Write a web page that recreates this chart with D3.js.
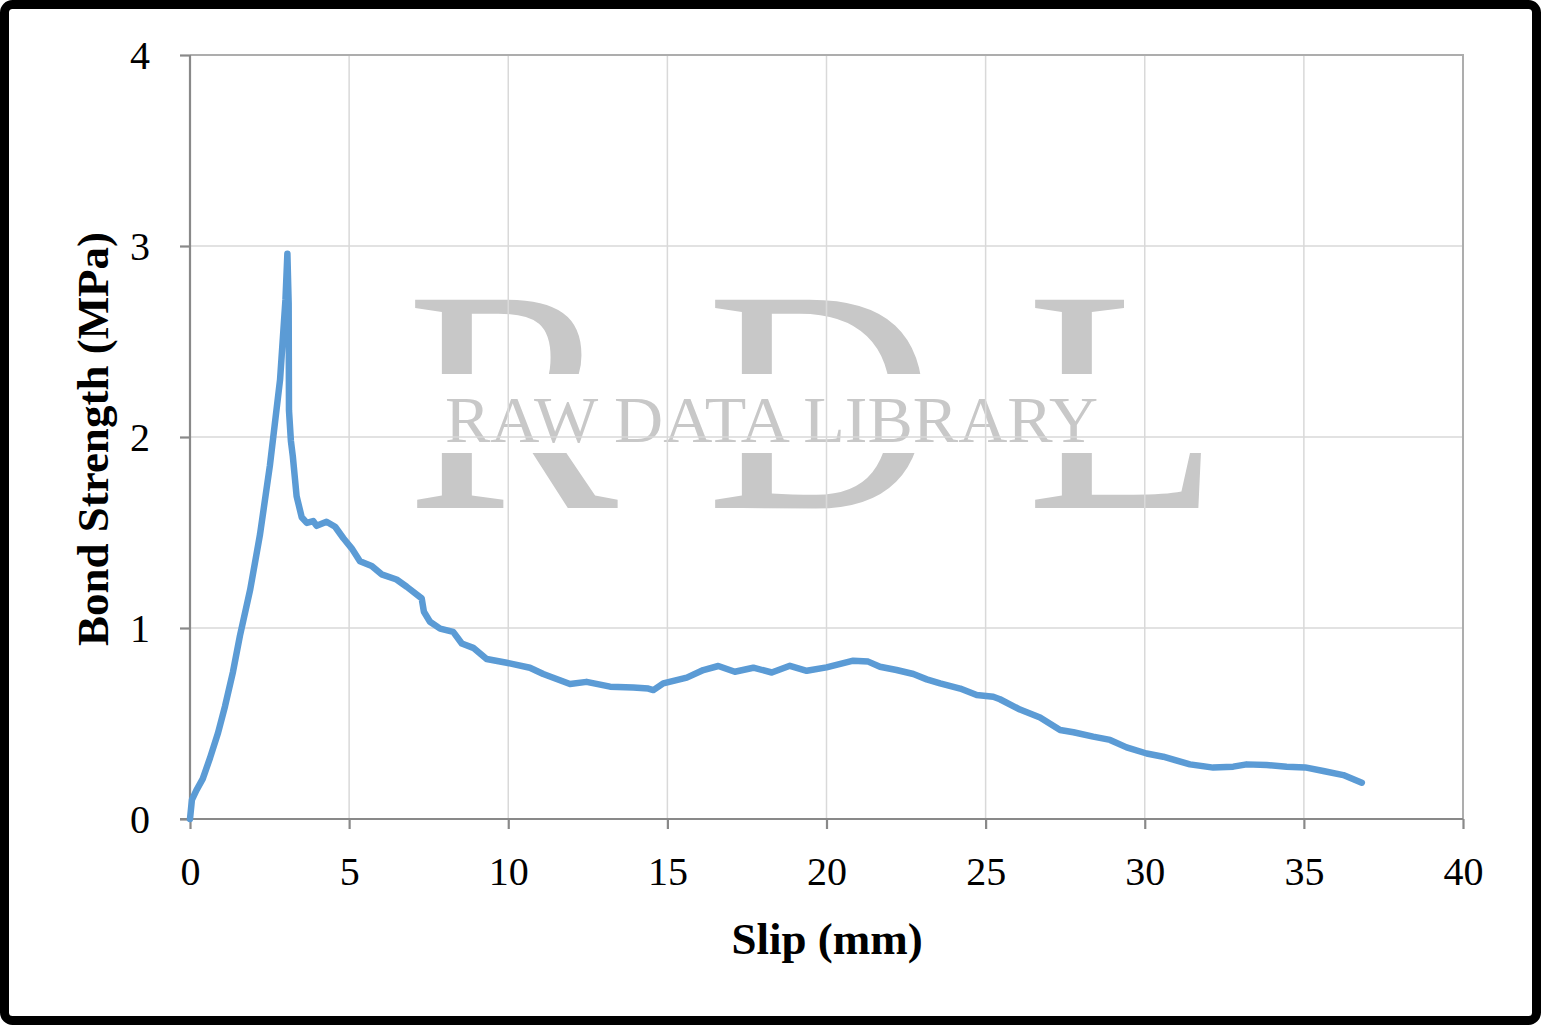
<!DOCTYPE html>
<html><head><meta charset="utf-8">
<script src="https://cdn.jsdelivr.net/npm/d3@7"></script>
<style>html,body{margin:0;padding:0;background:#fff;}svg{display:block;}</style>
</head><body>
<svg id="c" width="1541" height="1025"></svg>
<script>
// Slip (mm)
const slip = [0,0.06,0.2,0.4,0.63,0.88,1.1,1.35,1.57,1.89,2.2,2.51,2.83,3.0,3.06,3.1,3.11,3.17,3.23,3.35,3.51,3.67,3.87,3.98,4.29,4.56,4.82,5.08,5.34,5.71,6.02,6.49,6.81,7.28,7.35,7.54,7.86,8.27,8.54,8.9,9.32,9.95,10.68,11.1,11.94,12.46,13.2,13.93,14.4,14.56,14.87,15.61,16.13,16.6,17.12,17.7,18.28,18.85,19.38,20.0,20.84,21.31,21.68,22.2,22.73,23.15,23.57,24.2,24.72,25.24,25.45,26.08,26.71,27.34,27.76,28.38,28.91,29.43,30.06,30.58,31.42,32.15,32.78,33.2,33.83,34.46,35.04,35.61,36.24,36.82];
// Bond strength (MPa)
const bond = [0,0.1,0.15,0.21,0.32,0.45,0.59,0.77,0.96,1.2,1.49,1.85,2.3,2.72,2.96,2.7,2.14,1.98,1.9,1.69,1.58,1.55,1.56,1.535,1.556,1.53,1.47,1.417,1.35,1.325,1.281,1.254,1.216,1.155,1.085,1.033,0.997,0.98,0.919,0.896,0.838,0.818,0.792,0.759,0.707,0.718,0.693,0.689,0.683,0.675,0.71,0.74,0.78,0.801,0.771,0.792,0.767,0.802,0.776,0.794,0.829,0.824,0.797,0.78,0.759,0.731,0.71,0.683,0.649,0.64,0.627,0.573,0.531,0.466,0.454,0.431,0.414,0.375,0.343,0.326,0.286,0.269,0.274,0.286,0.283,0.274,0.27,0.251,0.23,0.19];
const xTicks = [0,5,10,15,20,25,30,35,40];
const yTicks = [0,1,2,3,4];
const xTitle = "Slip (mm)";
const yTitle = "Bond Strength (MPa)";
const wmBig = ["R","D","L"];
const wmSmall = "RAW DATA LIBRARY";

const svg = d3.select("#c");
const x = d3.scaleLinear().domain([0,40]).range([190,1463]);
const y = d3.scaleLinear().domain([0,4]).range([819,55]);
const serif = "'Liberation Serif','Times New Roman',serif";

svg.append("rect").attr("x",0).attr("y",0).attr("width",1541).attr("height",1025).attr("fill","#fff");

// watermark
const defs = svg.append("defs");
const cp = defs.append("clipPath").attr("id","band");
cp.append("rect").attr("x",0).attr("y",0).attr("width",1541).attr("height",374);
cp.append("rect").attr("x",0).attr("y",453).attr("width",1541).attr("height",600);
const wmX = [406,706,1026];
svg.append("g").attr("clip-path","url(#band)").selectAll("text").data(wmBig).join("text")
  .attr("x",(d,i)=>wmX[i]).attr("y",508)
  .attr("font-family",serif).attr("font-size",318).attr("fill","#c8c8c8")
  .text(d=>d);
svg.append("text").attr("x",445).attr("y",442).attr("textLength",653).attr("lengthAdjust","spacingAndGlyphs")
  .attr("font-family",serif).attr("font-size",66).attr("fill","#c8c8c8").text(wmSmall);

// gridlines
const grid = svg.append("g");
grid.selectAll(".vg").data(xTicks.filter(d=>d>0&&d<40)).join("line")
  .attr("x1",d=>x(d)).attr("x2",d=>x(d)).attr("y1",y(4)).attr("y2",y(0))
  .attr("stroke","#d9d9d9").attr("stroke-width",1.5);
grid.selectAll(".hg").data(yTicks.filter(d=>d>0&&d<4)).join("line")
  .attr("x1",x(0)).attr("x2",x(40)).attr("y1",d=>y(d)).attr("y2",d=>y(d))
  .attr("stroke","#d9d9d9").attr("stroke-width",1.5);
// plot border top/right
svg.append("path").attr("d",`M${x(0)},${y(4)}H${x(40)}V${y(0)}`).attr("fill","none").attr("stroke","#adadad").attr("stroke-width",2);

// axes
const xAxis = svg.append("g").attr("transform",`translate(0,${y(0)})`)
  .call(d3.axisBottom(x).tickValues(xTicks).tickSize(10).tickPadding(28).tickFormat(d3.format("d")));
const yAxis = svg.append("g").attr("transform",`translate(${x(0)},0)`)
  .call(d3.axisLeft(y).tickValues(yTicks).tickSize(10).tickPadding(30).tickFormat(d3.format("d")));
[xAxis,yAxis].forEach(a=>{
  a.select(".domain").attr("stroke","#898989").attr("stroke-width",2.2);
  a.selectAll(".tick line").attr("stroke","#898989").attr("stroke-width",2.2);
  a.selectAll(".tick text").attr("font-family",serif).attr("font-size",40).attr("fill","#000");
});
yAxis.select(".domain").attr("d",`M0,${y(4)}V${y(0)}`);
xAxis.select(".domain").attr("d",`M180,0H${x(40)}`);
xAxis.selectAll(".tick text").attr("dy","0.71em");
yAxis.selectAll(".tick text").attr("dy","0.34em");

// line
svg.append("path").datum(bond).attr("d",d3.line().x((d,i)=>x(slip[i])).y(d=>y(d)))
  .attr("fill","none").attr("stroke","#5b9bd5").attr("stroke-width",6.5)
  .attr("stroke-linejoin","round").attr("stroke-linecap","round");

// titles
svg.append("text").attr("x",827).attr("y",954).attr("text-anchor","middle")
  .attr("font-family",serif).attr("font-weight","bold").attr("font-size",45).text(xTitle);
svg.append("text").attr("transform","translate(108,439) rotate(-90)").attr("text-anchor","middle")
  .attr("font-family",serif).attr("font-weight","bold").attr("font-size",45).text(yTitle);

// frame
svg.append("rect").attr("x",4.5).attr("y",4.5).attr("width",1532).attr("height",1016).attr("rx",8)
  .attr("fill","none").attr("stroke","#000").attr("stroke-width",9);
</script>
</body></html>
